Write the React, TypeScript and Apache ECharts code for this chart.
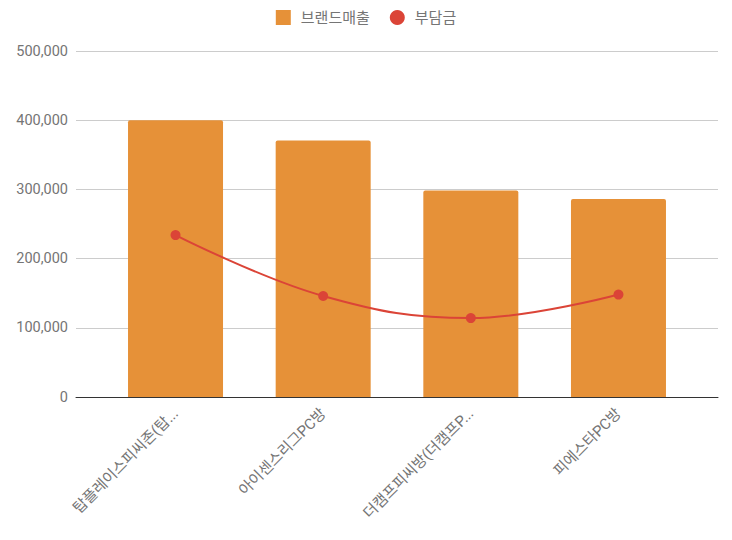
import React, { useEffect, useRef } from "react";
import * as echarts from "echarts";

const categories = [
  "탑플레이스피씨존(탑...",
  "아이센스리그PC방",
  "더캠프피씨방(더캠프P...",
  "피에스타PC방",
];
const brandSales = [400000, 370500, 298500, 286000];
const burden = [234000, 146000, 114000, 148000];
const seriesNames = ["브랜드매출", "부담금"];

const FONT = "Roboto, 'Noto Sans CJK KR', sans-serif";

export default function App() {
  const ref = useRef<HTMLDivElement>(null);
  useEffect(() => {
    if (!ref.current) return;
    const chart = echarts.init(ref.current, undefined, { renderer: "svg" });
    chart.setOption({
      animation: false,
      textStyle: { fontFamily: FONT },
      legend: {
        top: 5,
        left: "center",
        itemWidth: 15,
        itemHeight: 15,
        itemGap: 20,
        textStyle: {
          color: "#757575",
          fontSize: 15,
          fontFamily: FONT,
          padding: [0, 0, 0, 5],
        },
        data: [
          { name: seriesNames[0], icon: "rect" },
          { name: seriesNames[1], icon: "circle" },
        ],
      },
      grid: [
        { left: 76, right: 14, top: 51, bottom: 143 },
        { left: 101.7, right: 39.7, top: 51, bottom: 143 },
      ],
      xAxis: [
        {
          type: "category",
          gridIndex: 0,
          data: categories,
          axisLine: { show: true, lineStyle: { color: "#333333", width: 1 } },
          axisTick: { show: false },
          axisLabel: { show: false },
          splitLine: { show: false },
          z: 5,
        },
        {
          type: "category",
          gridIndex: 1,
          data: categories,
          axisLine: { show: false },
          axisTick: { show: false },
          axisLabel: {
            rotate: 45,
            margin: 14,
            color: "#757575",
            fontSize: 15,
            fontFamily: FONT,
          },
        },
      ],
      yAxis: [
        {
          type: "value",
          gridIndex: 0,
          min: 0,
          max: 500000,
          interval: 100000,
          axisLine: { show: false },
          axisTick: { show: false },
          axisLabel: {
            margin: 8,
            color: "#757575",
            fontSize: 14.5,
            fontFamily: FONT,
            formatter: (v: number) => v.toLocaleString("en-US"),
          },
          splitLine: { lineStyle: { color: "#cccccc", width: 1 } },
        },
        {
          type: "value",
          gridIndex: 1,
          min: 0,
          max: 500000,
          interval: 100000,
          axisLine: { show: false },
          axisTick: { show: false },
          axisLabel: { show: false },
          splitLine: { show: false },
        },
      ],
      series: [
        {
          name: seriesNames[0],
          type: "bar",
          xAxisIndex: 1,
          yAxisIndex: 1,
          data: brandSales,
          barWidth: 95,
          itemStyle: { color: "#E69138", borderRadius: [2, 2, 0, 0] },
          z: 2,
        },
        {
          name: seriesNames[1],
          type: "line",
          xAxisIndex: 1,
          yAxisIndex: 1,
          data: burden,
          smooth: 0.4,
          symbol: "circle",
          symbolSize: 10,
          lineStyle: { color: "#DB4437", width: 2 },
          itemStyle: { color: "#DB4437" },
          z: 3,
        },
      ],
    });
    return () => chart.dispose();
  }, []);
  return (
    <div
      ref={ref}
      style={{ position: "fixed", left: 0, top: 0, width: 732, height: 540, background: "#fff" }}
    />
  );
}
